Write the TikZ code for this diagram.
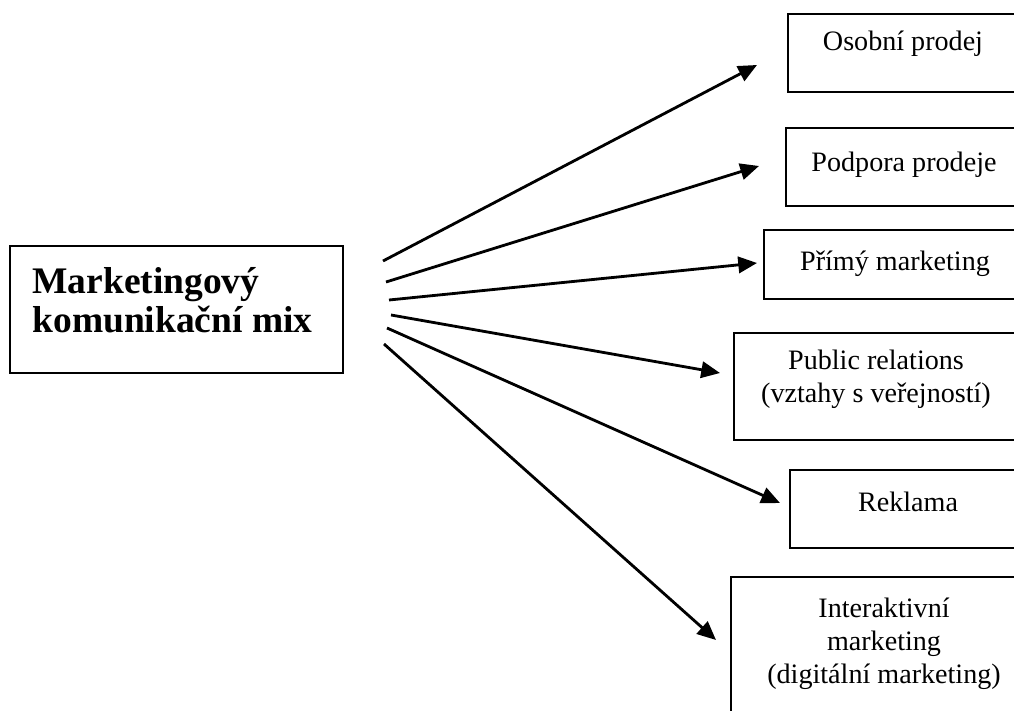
\documentclass[tikz,border=0pt]{standalone}
\usepackage{fontspec}
\setmainfont{Liberation Serif}
\usetikzlibrary{arrows.meta}
\tikzset{
  box/.style={line width=0.8pt},
  lbl/.style={anchor=base, align=center, inner sep=0pt, font=\fontsize{12}{14}\selectfont},
  arr/.style={line width=1.2pt, -{Triangle[length=8pt,width=7pt]}}
}
\begin{document}
\begin{tikzpicture}[x=0.015cm, y=-0.015cm]
	\useasboundingbox (0,0) rectangle (1014,711);
	\clip (0,0) rectangle (1014,711);
	% main box
	\draw[box] (10,246) rectangle (343,373);
	\node[lbl, anchor=base west, align=left, font=\fontsize{16}{16.6}\selectfont\bfseries] (mix) at (32,332) {Marketingový\\komunikační mix};
	
	% right boxes
	\draw[box] (788,14) rectangle (1018,92);
	\node[lbl] (osobni) at (903,51) {Osobní prodej};
	\draw[box] (786,128) rectangle (1022,206);
	\node[lbl] (podpora) at (904,172) {Podpora prodeje};
	\draw[box] (764,230) rectangle (1026,299);
	\node[lbl] (primy) at (895,271) {Přímý marketing};
	\draw[box] (734,333) rectangle (1018,440);
	\node[lbl] (pr) at (876,402) {Public relations\\(vztahy s veřejností)};
	\draw[box] (790,470) rectangle (1026,548);
	\node[lbl] (reklama) at (908,511) {Reklama};
	\draw[box] (731,577) rectangle (1037,760);
	\node[lbl] (inter) at (884,683) {Interaktivní\\marketing\\(digitální marketing)};
	
	% arrows
	\coordinate (s1) at (383,261);
	\coordinate (s2) at (386,282);
	\coordinate (s3) at (389,300);
	\coordinate (s4) at (391,315);
	\coordinate (s5) at (387,328);
	\coordinate (s6) at (384,344);
	\coordinate (t1) at (757,65);
	\coordinate (t2) at (759,166);
	\coordinate (t3) at (757,263);
	\coordinate (t4) at (720,373);
	\coordinate (t5) at (780,503);
	\coordinate (t6) at (716,640);
	\draw[arr] (s1) -- (t1);
	\draw[arr] (s2) -- (t2);
	\draw[arr] (s3) -- (t3);
	\draw[arr] (s4) -- (t4);
	\draw[arr] (s5) -- (t5);
	\draw[arr] (s6) -- (t6);
\end{tikzpicture}
\end{document}
